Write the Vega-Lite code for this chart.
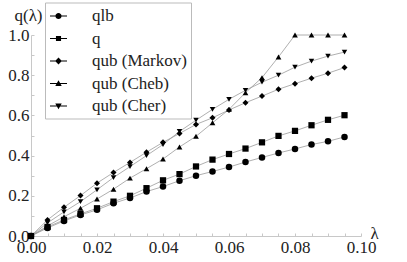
{
  "$schema": "https://vega.github.io/schema/vega-lite/v6.json",
  "width": 330,
  "height": 201,
  "autosize": "none",
  "padding": {"left": 31, "top": 35, "right": 46, "bottom": 26},
  "background": "white",
  "config": {
    "view": {"stroke": null},
    "axis": {
      "domainColor": "#c8c8c8",
      "tickColor": "#c8c8c8",
      "tickSize": -3,
      "grid": false,
      "labelFont": "Liberation Serif",
      "labelFontSize": 17,
      "labelColor": "#222",
      "titleFont": "Liberation Serif",
      "titleFontSize": 17,
      "titleFontWeight": "normal",
      "titleColor": "#222"
    }
  },
  "data": {
    "values": [
      {"l":0,"s":"qlb","v":0},{"l":0.005,"s":"qlb","v":0.04},{"l":0.01,"s":"qlb","v":0.075},{"l":0.015,"s":"qlb","v":0.105},{"l":0.02,"s":"qlb","v":0.13},{"l":0.025,"s":"qlb","v":0.163},{"l":0.03,"s":"qlb","v":0.189},{"l":0.035,"s":"qlb","v":0.221},{"l":0.04,"s":"qlb","v":0.246},{"l":0.045,"s":"qlb","v":0.275},{"l":0.05,"s":"qlb","v":0.3},{"l":0.055,"s":"qlb","v":0.321},{"l":0.06,"s":"qlb","v":0.343},{"l":0.065,"s":"qlb","v":0.368},{"l":0.07,"s":"qlb","v":0.391},{"l":0.075,"s":"qlb","v":0.413},{"l":0.08,"s":"qlb","v":0.433},{"l":0.085,"s":"qlb","v":0.455},{"l":0.09,"s":"qlb","v":0.471},{"l":0.095,"s":"qlb","v":0.493},
      {"l":0,"s":"q","v":0},{"l":0.005,"s":"q","v":0.045},{"l":0.01,"s":"q","v":0.08},{"l":0.015,"s":"q","v":0.11},{"l":0.02,"s":"q","v":0.138},{"l":0.025,"s":"q","v":0.171},{"l":0.03,"s":"q","v":0.2},{"l":0.035,"s":"q","v":0.238},{"l":0.04,"s":"q","v":0.277},{"l":0.045,"s":"q","v":0.308},{"l":0.05,"s":"q","v":0.346},{"l":0.055,"s":"q","v":0.38},{"l":0.06,"s":"q","v":0.408},{"l":0.065,"s":"q","v":0.435},{"l":0.07,"s":"q","v":0.466},{"l":0.075,"s":"q","v":0.498},{"l":0.08,"s":"q","v":0.523},{"l":0.085,"s":"q","v":0.551},{"l":0.09,"s":"q","v":0.578},{"l":0.095,"s":"q","v":0.601},
      {"l":0,"s":"qub (Markov)","v":0},{"l":0.005,"s":"qub (Markov)","v":0.08},{"l":0.01,"s":"qub (Markov)","v":0.143},{"l":0.015,"s":"qub (Markov)","v":0.201},{"l":0.02,"s":"qub (Markov)","v":0.263},{"l":0.025,"s":"qub (Markov)","v":0.316},{"l":0.03,"s":"qub (Markov)","v":0.366},{"l":0.035,"s":"qub (Markov)","v":0.417},{"l":0.04,"s":"qub (Markov)","v":0.466},{"l":0.045,"s":"qub (Markov)","v":0.51},{"l":0.05,"s":"qub (Markov)","v":0.555},{"l":0.055,"s":"qub (Markov)","v":0.588},{"l":0.06,"s":"qub (Markov)","v":0.627},{"l":0.065,"s":"qub (Markov)","v":0.663},{"l":0.07,"s":"qub (Markov)","v":0.696},{"l":0.075,"s":"qub (Markov)","v":0.73},{"l":0.08,"s":"qub (Markov)","v":0.758},{"l":0.085,"s":"qub (Markov)","v":0.785},{"l":0.09,"s":"qub (Markov)","v":0.81},{"l":0.095,"s":"qub (Markov)","v":0.838},
      {"l":0,"s":"qub (Cheb)","v":0},{"l":0.005,"s":"qub (Cheb)","v":0.05},{"l":0.01,"s":"qub (Cheb)","v":0.096},{"l":0.015,"s":"qub (Cheb)","v":0.138},{"l":0.02,"s":"qub (Cheb)","v":0.184},{"l":0.025,"s":"qub (Cheb)","v":0.233},{"l":0.03,"s":"qub (Cheb)","v":0.288},{"l":0.035,"s":"qub (Cheb)","v":0.335},{"l":0.04,"s":"qub (Cheb)","v":0.383},{"l":0.045,"s":"qub (Cheb)","v":0.443},{"l":0.05,"s":"qub (Cheb)","v":0.496},{"l":0.055,"s":"qub (Cheb)","v":0.563},{"l":0.06,"s":"qub (Cheb)","v":0.63},{"l":0.065,"s":"qub (Cheb)","v":0.713},{"l":0.07,"s":"qub (Cheb)","v":0.788},{"l":0.075,"s":"qub (Cheb)","v":0.891},{"l":0.08,"s":"qub (Cheb)","v":1},{"l":0.085,"s":"qub (Cheb)","v":1},{"l":0.09,"s":"qub (Cheb)","v":1},{"l":0.095,"s":"qub (Cheb)","v":1},
      {"l":0,"s":"qub (Cher)","v":0},{"l":0.005,"s":"qub (Cher)","v":0.065},{"l":0.01,"s":"qub (Cher)","v":0.12},{"l":0.015,"s":"qub (Cher)","v":0.171},{"l":0.02,"s":"qub (Cher)","v":0.23},{"l":0.025,"s":"qub (Cher)","v":0.291},{"l":0.03,"s":"qub (Cher)","v":0.345},{"l":0.035,"s":"qub (Cher)","v":0.4},{"l":0.04,"s":"qub (Cher)","v":0.455},{"l":0.045,"s":"qub (Cher)","v":0.52},{"l":0.05,"s":"qub (Cher)","v":0.576},{"l":0.055,"s":"qub (Cher)","v":0.63},{"l":0.06,"s":"qub (Cher)","v":0.68},{"l":0.065,"s":"qub (Cher)","v":0.725},{"l":0.07,"s":"qub (Cher)","v":0.765},{"l":0.075,"s":"qub (Cher)","v":0.8},{"l":0.08,"s":"qub (Cher)","v":0.84},{"l":0.085,"s":"qub (Cher)","v":0.87},{"l":0.09,"s":"qub (Cher)","v":0.895},{"l":0.095,"s":"qub (Cher)","v":0.915}
    ]
  },
  "encoding": {
    "x": {
      "field": "l", "type": "quantitative",
      "scale": {"domain": [0, 0.1], "nice": false, "zero": false},
      "axis": {
        "title": "λ",
        "titleX": 343, "titleY": -3, "titleAlign": "center", "titleBaseline": "middle", "titleAngle": 0,
        "values": [0,0.005,0.01,0.015,0.02,0.025,0.03,0.035,0.04,0.045,0.05,0.055,0.06,0.065,0.07,0.075,0.08,0.085,0.09,0.095,0.1],
        "labelExpr": "abs(datum.value*50 - round(datum.value*50)) < 0.001 ? format(datum.value, '.2f') : ''",
        "labelPadding": 6,
        "labelFlush": false,
        "labelOverlap": false
      }
    },
    "y": {
      "field": "v", "type": "quantitative",
      "scale": {"domain": [0, 1], "nice": false},
      "axis": {
        "title": "q(λ)",
        "titleX": -3, "titleY": -20, "titleAlign": "center", "titleBaseline": "middle", "titleAngle": 0,
        "values": [0,0.1,0.2,0.3,0.4,0.5,0.6,0.7,0.8,0.9,1],
        "labelExpr": "abs(datum.value*5 - round(datum.value*5)) < 0.001 ? format(datum.value, '.1f') : ''",
        "labelPadding": 5,
        "labelFlush": false,
        "labelOverlap": false
      }
    }
  },
  "layer": [
    {
      "mark": {"type": "line", "color": "#9a9a9a", "strokeWidth": 0.8},
      "encoding": {"detail": {"field": "s", "type": "nominal"}}
    },
    {
      "mark": {"type": "point", "filled": true, "color": "black", "opacity": 1},
      "encoding": {
        "shape": {
          "field": "s", "type": "nominal",
          "scale": {"domain": ["qlb","q","qub (Markov)","qub (Cheb)","qub (Cher)"], "range": ["circle","square","diamond","triangle-up","triangle-down"]},
          "legend": null
        },
        "size": {
          "field": "s", "type": "nominal",
          "scale": {"domain": ["qlb","q","qub (Markov)","qub (Cheb)","qub (Cher)"], "range": [42,30,50,40,40]},
          "legend": null
        }
      }
    },
    {
      "transform": [{"filter": "false"}],
      "mark": {"type": "point", "filled": true, "color": "black", "opacity": 1, "size": 289},
      "encoding": {
        "shape": {
          "field": "s", "type": "nominal",
          "scale": {
            "domain": ["qlb","q","qub (Markov)","qub (Cheb)","qub (Cher)"],
            "range": [
              "M-1,-0.055H1V0.055H-1Z M-0.36,0A0.36,0.36 0 1,1 0.36,0A0.36,0.36 0 1,1 -0.36,0Z",
              "M-1,-0.055H1V0.055H-1Z M-0.3,-0.3H0.3V0.3H-0.3Z",
              "M-1,-0.055H1V0.055H-1Z M0,-0.42L0.4,0L0,0.42L-0.4,0Z",
              "M-1,-0.055H1V0.055H-1Z M0,-0.38L0.38,0.28H-0.38Z",
              "M-1,-0.055H1V0.055H-1Z M0,0.38L-0.38,-0.28H0.38Z"
            ]
          },
          "legend": {
            "orient": "none",
            "legendX": 14,
            "legendY": -32.5,
            "title": null,
            "padding": 4,
            "strokeColor": "#bbbbbb",
            "fillColor": "white",
            "symbolSize": 289,
            "symbolFillColor": "black",
            "labelFont": "Liberation Serif",
            "labelFontSize": 17,
            "labelColor": "#222",
            "labelOffset": 24,
            "rowPadding": 4.5
          }
        }
      }
    }
  ],
  "resolve": {"scale": {"shape": "independent"}, "legend": {"shape": "independent"}}
}
